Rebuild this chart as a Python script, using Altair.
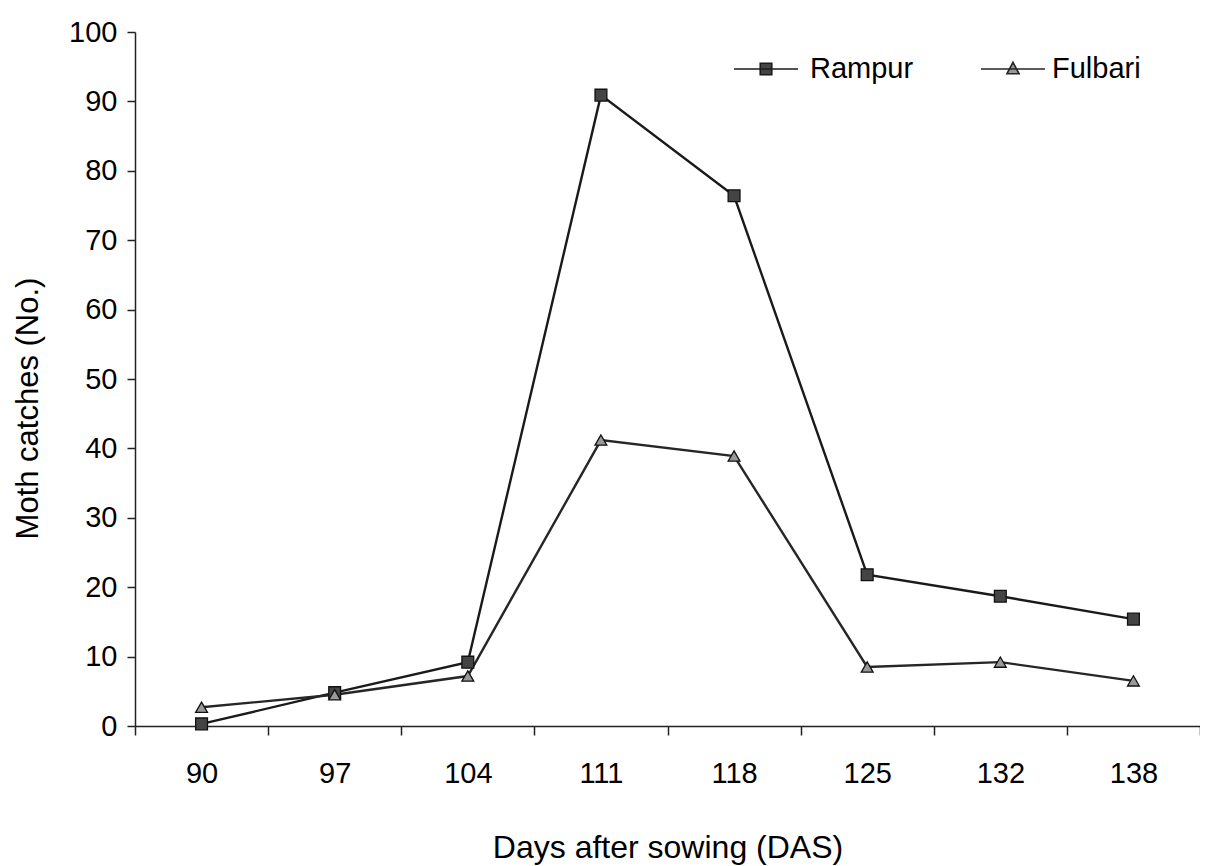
import altair as alt
import pandas as pd

das = [90, 97, 104, 111, 118, 125, 132, 138]
rampur = [0.3, 4.8, 9.2, 90.9, 76.4, 21.8, 18.7, 15.4]
fulbari = [2.7, 4.5, 7.2, 41.2, 38.9, 8.5, 9.2, 6.5]
series_names = ["Rampur", "Fulbari"]

rows = []
for name, vals in zip(series_names, [rampur, fulbari]):
    for d, v in zip(das, vals):
        rows.append({"das": d, "catches": v, "series": name})
df = pd.DataFrame(rows)

FONT = "Liberation Sans"

x_enc = alt.X(
    "das:O",
    sort=das,
    bandPosition=0.5,
    scale=alt.Scale(type="band", paddingInner=0, paddingOuter=0),
    axis=alt.Axis(
        title="Days after sowing (DAS)",
        labelAngle=0,
        tickBand="extent",
        tickSize=9,
        labelPadding=24,
        titlePadding=44,
        titleFontSize=32,
        domainColor="#222",
        tickColor="#222",
        grid=False,
    ),
)
y_enc = alt.Y(
    "catches:Q",
    scale=alt.Scale(domain=[0, 100], nice=False),
    axis=alt.Axis(
        title="Moth catches (No.)",
        values=list(range(0, 101, 10)),
        tickSize=8,
        labelPadding=10,
        titlePadding=24,
        titleFontSize=31,
        titleY=376,
        domainColor="#222",
        tickColor="#222",
        grid=False,
    ),
)

legend_common = dict(
    orient="none",
    legendY=4,
    title=None,
    symbolSize=4096,
    symbolStrokeWidth=1.6,
    symbolStrokeColor="#222",
    labelFontSize=29,
    labelFont=FONT,
    labelColor="#000",
)

symbol_paths = {
    "Rampur": "M-1,0H1M-0.18,-0.18H0.18V0.18H-0.18Z",
    "Fulbari": "M-1,0H1M0,-0.21L0.19,0.15H-0.19Z",
}
legend_x = {"Rampur": 598, "Fulbari": 845}
legend_fill = {"Rampur": "#444", "Fulbari": "#999"}
legend_offset = {"Rampur": 11, "Fulbari": 6}
line_color = {"Rampur": "#1a1a1a", "Fulbari": "#262626"}

line_layers = []
for name in series_names:
    line_layers.append(
        alt.Chart(df[df["series"] == name]).mark_line(strokeWidth=2.4).encode(
            x=x_enc,
            y=y_enc,
            color=alt.Color(
                "series:N",
                scale=alt.Scale(domain=[name], range=[line_color[name]]),
                legend=alt.Legend(
                    legendX=legend_x[name],
                    symbolType=symbol_paths[name],
                    symbolFillColor=legend_fill[name],
                    labelOffset=legend_offset[name],
                    **legend_common,
                ),
            ),
        )
    )

points = alt.Chart(df).mark_point(filled=True, stroke="#111", strokeWidth=1.3, size=140, opacity=1).encode(
    x=x_enc,
    y=y_enc,
    shape=alt.Shape(
        "series:N",
        sort=series_names,
        scale=alt.Scale(domain=series_names, range=["square", "triangle-up"]),
        legend=None,
    ),
    fill=alt.Fill(
        "series:N",
        sort=series_names,
        scale=alt.Scale(domain=series_names, range=["#444", "#999"]),
        legend=None,
    ),
)

chart = (
    alt.layer(*line_layers, points)
    .resolve_scale(color="independent")
    .resolve_legend(color="independent")
    .properties(
        width=1065,
        height=694,
        autosize=alt.AutoSizeParams(type="none"),
        padding={"left": 127, "top": 24, "right": 0, "bottom": 140},
        background="white",
    )
    .configure_view(stroke=None)
    .configure_axis(
        labelFont=FONT,
        titleFont=FONT,
        labelFontSize=29,
        labelColor="#000",
        titleColor="#000",
        titleFontWeight="normal",
        domainWidth=1.5,
        tickWidth=1.5,
    )
)

chart.save("out.html", embed_options={"renderer": "svg", "actions": False})
